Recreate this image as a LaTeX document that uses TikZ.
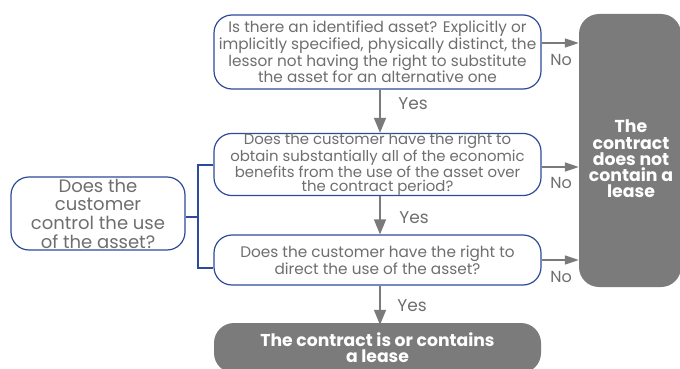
\documentclass[tikz,border=0pt]{standalone}
\usepackage{fontspec}
\setmainfont{Poppins}
\usetikzlibrary{arrows.meta,calc}
\definecolor{bordblue}{HTML}{2E4A9B}
\definecolor{txtgrey}{HTML}{6E6E6E}
\definecolor{boxgrey}{HTML}{7B7B7B}
\definecolor{arrgrey}{HTML}{7A7A7A}
\begin{document}
\begin{tikzpicture}[x=1pt,y=-1pt,
  qbox/.style={draw=bordblue, line width=1.2pt, rounded corners=18pt, fill=white,
    text=txtgrey, align=center, inner sep=0pt, minimum width=327pt,
    font=\fontsize{15.3}{15.5}\selectfont},
  gbox/.style={fill=boxgrey, rounded corners=20pt, inner sep=0pt, text=white,
    align=center, font=\bfseries\fontsize{17.2}{16.2}\selectfont},
  yesarr/.style={draw=arrgrey, line width=1.5pt, -{Triangle[length=15pt,width=12pt]}},
  noarr/.style={draw=arrgrey, line width=1.5pt, -{Triangle[length=14pt,width=9pt]}},
  lbl/.style={text=txtgrey, inner sep=0pt, font=\fontsize{17}{18}\selectfont},
  brk/.style={draw=bordblue, line width=1.2pt}
  ]
\useasboundingbox (0,0) rectangle (680,369);
\fill[white] (0,0) rectangle (680,369);

\node[qbox, minimum height=74pt] (b1) at (377.5,52)
  {Is there an identified asset? Explicitly or\\implicitly specified, physically distinct, the\\lessor not having the right to substitute\\the asset for an alternative one};
\node[qbox, minimum height=59pt, font=\fontsize{14.9}{14.3}\selectfont] (b2) at (377.5,164.5)
  {Does the customer have the right to\\obtain substantially all of the economic\\benefits from the use of the asset over\\the contract period?};
\node[qbox, minimum height=50pt, font=\fontsize{15.3}{15}\selectfont] (b3) at (377.5,260)
  {Does the customer have the right to\\direct the use of the asset?};
\node[qbox, minimum width=174pt, minimum height=73pt, font=\fontsize{18}{18.7}\selectfont] (ctrl) at (98,213.5)
  {Does the\\customer\\control the use\\of the asset?};

\node[gbox, minimum width=327pt, minimum height=50pt] (res) at (377.5,348)
  {The contract is or contains\\a lease};
\node[gbox, minimum width=102pt, minimum height=273pt] (grey) at (630,150.5) {};
\node[gbox, font=\bfseries\fontsize{17.3}{16.2}\selectfont] (greyt) at (631,159)
  {The\\contract\\does not\\contain a\\lease};

% Yes arrows
\coordinate (y1s) at ($(b1.south)+(2.5,0)$);
\coordinate (y1e) at ($(b2.north)+(2.5,0)$);
\coordinate (y2s) at ($(b2.south)+(2.5,0)$);
\coordinate (y2e) at ($(b3.north)+(2.5,0)$);
\coordinate (y3s) at ($(b3.south)+(2.5,0)$);
\coordinate (y3e) at ($(res.north)+(2.5,2)$);
\draw[yesarr] (y1s) -- (y1e);
\draw[yesarr] (y2s) -- (y2e);
\draw[yesarr] (y3s) -- (y3e);
\node[lbl] (yes1) at (413,104) {Yes};
\node[lbl] (yes2) at (414,218) {Yes};
\node[lbl] (yes3) at (412,306) {Yes};

% No arrows
\coordinate (n1s) at ($(b1.east)+(0,-9)$);
\coordinate (n2s) at ($(b2.east)+(0,2.5)$);
\coordinate (n3s) at (b3.east);
\draw[noarr] (n1s) -- (n1s -| grey.west);
\draw[noarr] (n2s) -- (n2s -| grey.west);
\draw[noarr] (n3s) -- (n3s -| grey.west);
\node[lbl, font=\fontsize{16}{18}\selectfont] (no1) at (561,60) {No};
\node[lbl, font=\fontsize{16}{18}\selectfont] (no2) at (561,183) {No};
\node[lbl, font=\fontsize{16}{18}\selectfont] (no3) at (561,277) {No};

% bracket
\coordinate (bt) at (198,165);
\coordinate (bb) at (198,268);
\coordinate (bm) at (198,217);
\draw[brk] (b2.west |- bt) -- (bt) -- (bb) -- (b3.west |- bb);
\draw[brk] (ctrl.east |- bm) -- (bm);
\end{tikzpicture}
\end{document}
